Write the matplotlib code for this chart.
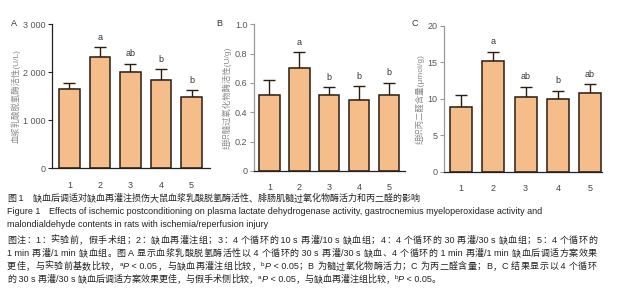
import matplotlib.pyplot as plt
import numpy as np

groups = ["1", "2", "3", "4", "5"]

ldh_mean = [1640, 2310, 2000, 1825, 1470]
ldh_err = [125, 205, 175, 230, 145]
ldh_sig = ["", "a", "ab", "b", "b"]

mpo_mean = [0.52, 0.70, 0.515, 0.487, 0.52]
mpo_err = [0.10, 0.11, 0.055, 0.09, 0.08]
mpo_sig = ["", "a", "b", "b", "b"]

mda_mean = [8.8, 15.1, 10.3, 10.0, 10.8]
mda_err = [1.7, 1.3, 1.3, 1.1, 1.2]
mda_sig = ["", "a", "ab", "b", "ab"]

# caption lines; "^a" marks a superscript letter followed by an italic P
caption_lines = [
    "图 1　缺血后调适对缺血再灌注损伤大鼠血浆乳酸脱氢酶活性、腓肠肌髓过氧化物酶活力和丙二醛的影响",
    "Figure 1　Effects of ischemic postconditioning on plasma lactate dehydrogenase activity, gastrocnemius myeloperoxidase activity and",
    "malondialdehyde contents in rats with ischemia/reperfusion injury",
    "图注：1：实验前，假手术组；2：缺血再灌注组；3：4 个循环的 10 s 再灌/10 s 缺血组；4：4 个循环的 30 再灌/30 s 缺血组；5：4 个循环的",
    "1 min 再灌/1 min 缺血组。图 A 显示血浆乳酸脱氢酶活性以 4 个循环的 30 s 再灌/30 s 缺血、4 个循环的 1 min 再灌/1 min 缺血后调适方案效果",
    "更佳，与实验前基数比较，^aP < 0.05，与缺血再灌注组比较，^bP < 0.05；B 为髓过氧化物酶活力；C 为丙二醛含量；B，C 结果显示以 4 个循环",
    "的 30 s 再灌/30 s 缺血后调适方案效果更佳，与假手术侧比较，^aP < 0.05，与缺血再灌注组比较，^bP < 0.05。",
]
justified = [False, False, False, True, True, True, False]

FONTS = ["Liberation Sans", "Noto Sans CJK SC", "DejaVu Sans"]
plt.rcParams["font.family"] = FONTS
plt.rcParams["axes.unicode_minus"] = False

BAR_COLOR = "#f4bd8a"
EDGE = "#2b1d12"
W, H = 619, 300

fig = plt.figure(figsize=(W / 100, H / 100), dpi=100)


def bar_panel(rect, means, errs, sigs, ylim, yticks, yticklabels, ylabel, letter,
              letter_xy, xlim, spine_color):
    ax = fig.add_axes(rect)
    x = np.arange(1, len(groups) + 1)
    ax.bar(x, means, width=0.68, color=BAR_COLOR, edgecolor=EDGE, linewidth=1.1, zorder=2)
    ax.errorbar(x, means, yerr=[np.zeros(len(errs)), errs], fmt="none", ecolor=EDGE,
                elinewidth=1.0, capsize=4, capthick=1.0, zorder=1)
    for xi, m, e, s in zip(x, means, errs, sigs):
        if s:
            ax.annotate(s, (xi, m + e), xytext=(0, 4), textcoords="offset points",
                        ha="center", va="bottom", fontsize=6.5, color="#333333")
    ax.set_xlim(*xlim)
    ax.set_ylim(*ylim)
    ax.set_yticks(yticks)
    ax.set_yticklabels(yticklabels)
    ax.set_xticks(x)
    ax.set_xticklabels(groups)
    ax.tick_params(axis="x", length=0, pad=9, labelsize=6.5, labelcolor="#444444")
    ax.tick_params(axis="y", length=3, width=0.8, pad=1.5, labelsize=6.5,
                   labelcolor="#555555", color=spine_color)
    for side in ("top", "right"):
        ax.spines[side].set_visible(False)
    ax.spines["left"].set_color(spine_color)
    ax.spines["bottom"].set_color("#222222")
    ax.spines["left"].set_linewidth(0.9)
    ax.spines["bottom"].set_linewidth(0.9)
    ax.set_ylabel(ylabel, fontsize=6, color="#8a8a8a", labelpad=2)
    fig.text(letter_xy[0] / W, 1 - letter_xy[1] / H, letter, fontsize=6.5,
             color="#333333", ha="left", va="center")
    return ax


bar_panel([0.084, 0.44, 0.255, 0.48], ldh_mean, ldh_err, ldh_sig, (0, 3000),
          [0, 1000, 2000, 3000], ["0", "1 000", "2 000", "3 000"],
          "血浆乳酸脱氢酶活性(U/L)", "A", (11, 23), (0.43, 5.6), "#222222")
bar_panel([0.410, 0.43, 0.244, 0.489], mpo_mean, mpo_err, mpo_sig, (0, 1.0),
          [0, 0.2, 0.4, 0.6, 0.8, 1.0], ["0", "0.2", "0.4", "0.6", "0.8", "1.0"],
          "组织髓过氧化物酶活性(U/g)", "B", (216, 23), (0.48, 5.52), "#999999")
bar_panel([0.717, 0.427, 0.255, 0.488], mda_mean, mda_err, mda_sig, (0, 20),
          [0, 5, 10, 15, 20], ["0", "5", "10", "15", "20"],
          "组织丙二醛含量(μmol/g)", "C", (411, 23), (0.46, 5.36), "#999999")

renderer = fig.canvas.get_renderer()
FS = 6.5


def is_wide(ch):
    return ord(ch) > 0x2E00


def tokenize(txt):
    # tokens: single CJK glyphs, latin runs, and ^x superscripts + italic P
    toks = []
    i = 0
    buf = ""
    while i < len(txt):
        ch = txt[i]
        if ch == "^":
            if buf:
                toks.append((buf, "plain"))
                buf = ""
            toks.append((txt[i + 1], "sup"))
            toks.append(("P", "ital"))
            i += 3
            continue
        if is_wide(ch):
            if buf:
                toks.append((buf, "plain"))
                buf = ""
            toks.append((ch, "plain"))
        else:
            buf += ch
        i += 1
    if buf:
        toks.append((buf, "plain"))
    return toks


def glyph_kw(style):
    kw = dict(fontsize=FS, color="#222222", ha="left", va="baseline", family=FONTS)
    if style == "sup":
        kw["fontsize"] = FS * 0.7
    elif style == "ital":
        kw["style"] = "italic"
    return kw


def width_px(s, kw):
    t = fig.text(0, 0, s, **kw)
    w = t.get_window_extent(renderer).width
    t.remove()
    return w * 100 / fig.dpi


def advance(s, kw):
    # advance width incl. trailing spaces, measured against a marker glyph
    return width_px(s + "x", kw) - width_px("x", kw)


def draw_line(x_px, y_px, txt, right_px=None):
    toks = tokenize(txt)
    advs = [advance(s, glyph_kw(st)) for s, st in toks]
    extra = 0.0
    if right_px is not None and len(toks) > 1:
        last = width_px(toks[-1][0], glyph_kw(toks[-1][1]))
        extra = (right_px - x_px - sum(advs[:-1]) - last) / (len(toks) - 1)
    x = x_px
    for (s, st), a in zip(toks, advs):
        y = y_px - 3 if st == "sup" else y_px
        fig.text(x / W, 1 - y / H, s, **glyph_kw(st))
        x += a + (extra if st != "sup" else 0)


line_y = [201, 214, 227, 243, 256, 269, 282]
for txt, yy, just in zip(caption_lines, line_y, justified):
    draw_line(7, yy, txt, 597 if just else None)

fig.savefig("out.png", dpi=100)
